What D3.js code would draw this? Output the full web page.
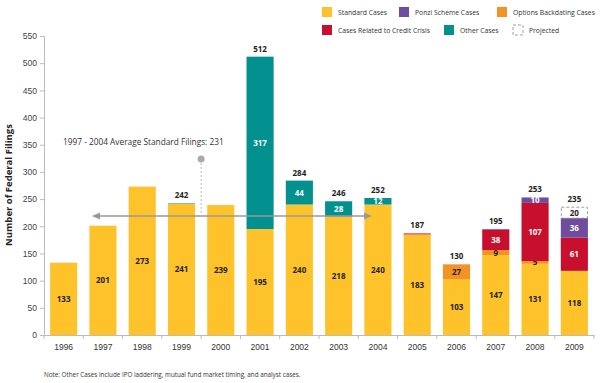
<!DOCTYPE html>
<html><head><meta charset="utf-8">
<script src="https://cdn.jsdelivr.net/npm/d3@7/dist/d3.min.js"></script>
<style>body{margin:0;background:#fff}svg{display:block;font-family:"Open Sans","Noto Sans",sans-serif}</style>
</head><body>
<script>
const years = ["1996","1997","1998","1999","2000","2001","2002","2003","2004","2005","2006","2007","2008","2009"];
const standard   = [133,201,273,241,239,195,240,218,240,183,103,147,131,118];
const backdating = [0,0,0,0,0,0,0,0,0,3,27,9,5,0];
const credit     = [0,0,0,0,0,0,0,0,0,1,0,38,107,61];
const ponzi      = [0,0,0,0,0,0,0,0,0,0,0,1,10,36];
const other      = [0,0,0,1,0,317,44,28,12,0,0,0,0,0];
const projected  = [0,0,0,0,0,0,0,0,0,0,0,0,0,20];
const totals     = [133,201,273,242,239,512,284,246,252,187,130,195,253,235];
const yTicks = [0,50,100,150,200,250,300,350,400,450,500,550];
const avgValue = 231;

const W=600,H=383;
const svg=d3.select("body").append("svg").attr("width",W).attr("height",H);
const x=d3.scaleBand().domain(years).range([44,594]).paddingInner(0.31).paddingOuter(0.155);
const y=d3.scaleLinear().domain([0,550]).range([335,36]);

const series=[
 {key:"standard",vals:standard,color:"#FEC32A",text:"#222"},
 {key:"backdating",vals:backdating,color:"#F39324",text:"#222"},
 {key:"credit",vals:credit,color:"#C8102E",text:"#fff"},
 {key:"ponzi",vals:ponzi,color:"#6E4D9E",text:"#fff"},
 {key:"other",vals:other,color:"#03918F",text:"#fff"},
 {key:"projected",vals:projected,color:"#fff",text:"#222",dash:true}
];

// axes
const yAx=svg.append("g").attr("transform","translate(44,0)")
 .call(d3.axisLeft(y).tickValues(yTicks).tickSize(4).tickPadding(3));
yAx.select(".domain").attr("stroke","#bbb");
yAx.selectAll(".tick line").attr("stroke","#bbb");
yAx.selectAll("text").attr("font-size","8.5px").attr("fill","#444");

const xAx=svg.append("g").attr("transform","translate(0,335)")
 .call(d3.axisBottom(x).tickSize(0).tickPadding(9));
xAx.select(".domain").attr("stroke","#bbb");
xAx.selectAll("text").attr("font-size","8.5px").attr("fill","#333");
const step=x.step();
xAx.selectAll(".bt").data(d3.range(years.length+1)).join("line")
 .attr("x1",i=>44+i*step).attr("x2",i=>44+i*step).attr("y1",0).attr("y2",4).attr("stroke","#bbb");

// bars
const bars=svg.append("g");
years.forEach((yr,i)=>{
  let base=0, nseg=0;
  series.forEach(s=>{
    const v=s.vals[i];
    if(!v) return;
    nseg++;
    const y0=y(base), y1=y(base+v);
    const r=bars.append("rect").attr("x",x(yr)).attr("width",x.bandwidth())
      .attr("y",y1).attr("height",y0-y1).attr("fill",s.color);
    if(s.dash) r.attr("stroke","#888").attr("stroke-dasharray","3,2").attr("stroke-width",0.8)
      .attr("x",x(yr)+0.5).attr("width",x.bandwidth()-1);
    if(v>=5){
      bars.append("text").attr("x",x(yr)+x.bandwidth()/2).attr("y",(y0+y1)/2+3)
        .attr("text-anchor","middle").attr("font-size","8px").attr("font-weight","bold")
        .attr("fill",s.text).text(v);
    }
    base+=v;
  });
  if(nseg>1){
    bars.append("text").attr("x",x(yr)+x.bandwidth()/2).attr("y",y(totals[i])-5)
      .attr("text-anchor","middle").attr("font-size","8px").attr("font-weight","bold")
      .attr("fill","#222").text(totals[i]);
  }
});

// average annotation
const ay=216;
const ax1=x("1997")+x.bandwidth()/2-11, ax2=x("2004")+x.bandwidth()/2-6;
const ann=svg.append("g");
ann.append("line").attr("x1",ax1+6).attr("x2",ax2-6).attr("y1",ay).attr("y2",ay).attr("stroke","#999").attr("stroke-width",1.5);
ann.append("path").attr("d",`M${ax1},${ay}L${ax1+8},${ay-3.5}L${ax1+8},${ay+3.5}Z`).attr("fill","#999");
ann.append("path").attr("d",`M${ax2},${ay}L${ax2-8},${ay-3.5}L${ax2-8},${ay+3.5}Z`).attr("fill","#999");
const dx=x("2000")-(step-x.bandwidth())/2;
ann.append("line").attr("x1",dx).attr("x2",dx).attr("y1",159).attr("y2",ay).attr("stroke","#bbb").attr("stroke-dasharray","2,2");
ann.append("circle").attr("cx",dx).attr("cy",159).attr("r",3.5).attr("fill","#aaa");
ann.append("text").attr("x",63).attr("y",145).attr("font-size","8.3px").attr("fill","#333")
 .text("1997 - 2004 Average Standard Filings: "+avgValue);

// y label
svg.append("text").attr("transform","translate(12,185) rotate(-90)").attr("text-anchor","middle")
 .attr("font-size","9.5px").attr("font-weight","bold").attr("fill","#222").text("Number of Federal Filings");

// legend
const legend=[
 {label:"Standard Cases",color:"#FEC32A",x:322,y:7},
 {label:"Ponzi Scheme Cases",color:"#6E4D9E",x:399,y:7},
 {label:"Options Backdating Cases",color:"#F39324",x:497,y:7},
 {label:"Cases Related to Credit Crisis",color:"#C8102E",x:322,y:25},
 {label:"Other Cases",color:"#03918F",x:444,y:25},
 {label:"Projected",color:"#fff",x:513,y:25,dash:true}
];
const lg=svg.append("g");
legend.forEach(l=>{
  const r=lg.append("rect").attr("x",l.x).attr("y",l.y).attr("width",10).attr("height",10).attr("fill",l.color);
  if(l.dash) r.attr("stroke","#888").attr("stroke-dasharray","3,2").attr("stroke-width",0.8);
  lg.append("text").attr("x",l.x+16).attr("y",l.y+8).attr("font-size","6.8px").attr("fill","#333").text(l.label);
});

// note
svg.append("text").attr("x",44).attr("y",377).attr("font-size","6.3px").attr("fill","#333")
 .text("Note: Other Cases include IPO laddering, mutual fund market timing, and analyst cases.");
</script>
</body></html>
